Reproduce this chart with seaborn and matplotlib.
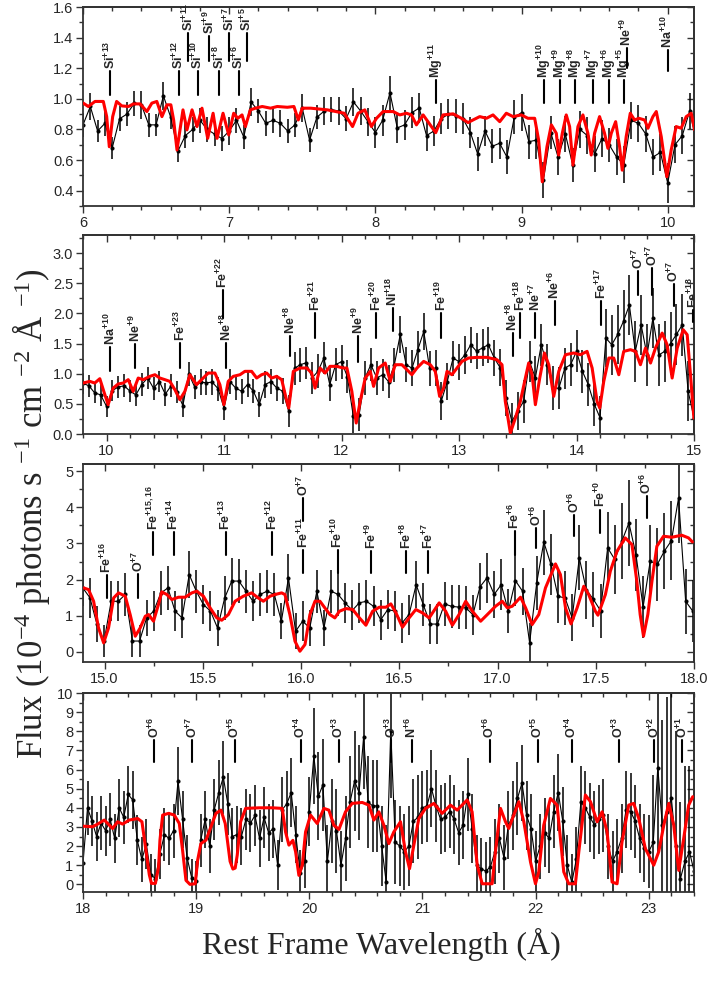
import numpy as np
import matplotlib
matplotlib.use("Agg")
import matplotlib.pyplot as plt
import seaborn as sns
from matplotlib.ticker import MultipleLocator, FormatStrFormatter

sns.set_style("ticks")
plt.rcParams['font.family'] = ['Liberation Sans', 'DejaVu Sans']
plt.rcParams['mathtext.default'] = 'regular'

# ---------------- panel 1 : 6 - 10.2 A ----------------
p1_start, p1_step = 6.0, 0.05
p1_flux = [0.83, 0.95, 0.79, 0.84, 0.68, 0.87, 0.90, 0.97, 0.96, 0.83,
           0.83, 1.02, 0.88, 0.66, 0.76, 0.80, 0.86, 0.80, 0.77, 0.74,
           0.79, 0.86, 0.75, 0.98, 0.92, 0.84, 0.86, 0.84, 0.79, 0.83,
           0.94, 0.73, 0.88, 0.92, 0.93, 0.92, 0.87, 0.98, 0.92, 0.85,
           0.78, 0.86, 1.04, 0.81, 0.83, 0.91, 0.94, 0.76, 0.79, 0.87,
           0.90, 0.89, 0.87, 0.78, 0.64, 0.79, 0.69, 0.71, 0.62, 0.88,
           0.91, 0.72, 0.73, 0.47, 0.78, 0.62, 0.77, 0.57, 0.80, 0.76,
           0.64, 0.74, 0.70, 0.62, 0.57, 0.86, 0.84, 0.77, 0.62, 0.65,
           0.45, 0.70, 0.76, 0.92, 0.71]
p1_err = [0.08, 0.09, 0.07, 0.08, 0.07, 0.08, 0.08, 0.08, 0.09, 0.08,
          0.07, 0.09, 0.08, 0.07, 0.08, 0.08, 0.08, 0.08, 0.08, 0.08,
          0.09, 0.08, 0.08, 0.09, 0.08, 0.08, 0.08, 0.09, 0.08, 0.08,
          0.09, 0.08, 0.08, 0.09, 0.08, 0.09, 0.08, 0.09, 0.09, 0.09,
          0.10, 0.10, 0.11, 0.10, 0.10, 0.10, 0.10, 0.10, 0.10, 0.10,
          0.10, 0.11, 0.10, 0.10, 0.11, 0.10, 0.11, 0.10, 0.11, 0.11,
          0.12, 0.11, 0.12, 0.12, 0.11, 0.12, 0.12, 0.11, 0.12, 0.12,
          0.12, 0.12, 0.11, 0.12, 0.12, 0.12, 0.12, 0.12, 0.12, 0.12,
          0.13, 0.12, 0.12, 0.12, 0.13]
p1_model_x = [6.002, 6.036, 6.082, 6.139, 6.162, 6.180, 6.203, 6.230, 6.265, 6.311,
              6.345, 6.391, 6.437, 6.471, 6.505, 6.540, 6.574, 6.601, 6.620, 6.643,
              6.684, 6.711, 6.746, 6.780, 6.814, 6.853, 6.890, 6.917, 6.958, 6.997,
              7.031, 7.059, 7.088, 7.111, 7.145, 7.180, 7.226, 7.283, 7.329, 7.398,
              7.443, 7.473, 7.500, 7.558, 7.672, 7.787, 7.844, 7.882, 7.928, 7.973,
              8.008, 8.053, 8.122, 8.167, 8.213, 8.247, 8.281, 8.327, 8.368, 8.413,
              8.463, 8.532, 8.589, 8.634, 8.668, 8.714, 8.760, 8.805, 8.851, 8.896,
              8.942, 8.999, 9.044, 9.090, 9.117, 9.142, 9.174, 9.204, 9.238, 9.254,
              9.279, 9.306, 9.329, 9.352, 9.386, 9.420, 9.454, 9.477, 9.500, 9.534,
              9.568, 9.591, 9.614, 9.644, 9.671, 9.689, 9.716, 9.744, 9.773, 9.803,
              9.842, 9.865, 9.899, 9.922, 9.956, 9.994, 10.024, 10.058, 10.092, 10.127,
              10.161, 10.184]
p1_model_y = [0.972, 0.950, 0.983, 0.983, 0.884, 0.687, 0.884, 0.983, 0.954, 0.950,
              0.967, 0.967, 0.917, 0.972, 0.983, 0.884, 0.961, 0.961, 0.862, 0.666,
              0.928, 0.797, 0.928, 0.819, 0.939, 0.742, 0.906, 0.742, 0.906, 0.764,
              0.906, 0.873, 0.895, 0.819, 0.928, 0.939, 0.950, 0.939, 0.950, 0.945,
              0.950, 0.862, 0.939, 0.939, 0.928, 0.906, 0.819, 0.906, 0.928, 0.819,
              0.873, 0.917, 0.917, 0.895, 0.906, 0.895, 0.830, 0.895, 0.840, 0.779,
              0.895, 0.902, 0.873, 0.845, 0.862, 0.884, 0.873, 0.895, 0.851, 0.906,
              0.884, 0.895, 0.873, 0.873, 0.731, 0.458, 0.687, 0.830, 0.775, 0.633,
              0.775, 0.895, 0.819, 0.567, 0.819, 0.895, 0.775, 0.633, 0.775, 0.884,
              0.775, 0.677, 0.775, 0.851, 0.687, 0.534, 0.753, 0.906, 0.862, 0.873,
              0.862, 0.808, 0.884, 0.917, 0.753, 0.491, 0.666, 0.819, 0.808, 0.884,
              0.906, 0.797]
p1_lines = [(6.185, 1.025, 1.18, "Si", "+13"), (6.654, 1.025, 1.18, "Si", "+12"),
            (6.785, 1.025, 1.18, "Si", "+10"), (6.933, 1.025, 1.18, "Si", "+8"),
            (7.064, 1.025, 1.18, "Si", "+6"), (6.720, 1.25, 1.43, "Si", "+11"),
            (6.865, 1.25, 1.41, "Si", "+9"), (7.000, 1.25, 1.43, "Si", "+7"),
            (7.120, 1.25, 1.43, "Si", "+5"), (8.413, 0.97, 1.12, "Mg", "+11"),
            (9.153, 0.97, 1.12, "Mg", "+10"), (9.265, 0.97, 1.12, "Mg", "+9"),
            (9.365, 0.97, 1.12, "Mg", "+8"), (9.488, 0.97, 1.12, "Mg", "+7"),
            (9.597, 0.97, 1.12, "Mg", "+6"), (9.698, 0.97, 1.12, "Mg", "+5"),
            (9.720, 1.20, 1.33, "Ne", "+9"), (10.000, 1.18, 1.32, "Na", "+10")]

# ---------------- panel 2 : 9.8 - 15 A ----------------
p2_start, p2_step = 9.8, 0.05
p2_flux = [0.84, 0.80, 0.68, 0.65, 0.46, 0.72, 0.78, 0.80, 0.71, 0.65,
           0.82, 0.93, 0.76, 0.87, 0.66, 0.80, 0.70, 0.47, 1.00, 0.78,
           0.86, 0.85, 0.86, 0.75, 0.43, 0.87, 0.76, 0.71, 0.82, 0.71,
           0.49, 0.82, 0.87, 0.76, 0.71, 0.38, 1.09, 1.15, 1.18, 0.93,
           1.04, 1.26, 0.82, 1.15, 1.20, 0.95, 0.30, 0.32, 0.93, 1.15,
           0.93, 0.98, 0.87, 1.15, 1.65, 1.15, 1.09, 1.40, 1.70, 1.09,
           1.09, 0.55, 0.87, 1.26, 1.20, 1.31, 1.48, 1.37, 1.43, 1.48,
           1.26, 1.10, 0.60, 0.21, 0.38, 0.54, 1.20, 0.93, 1.48, 1.15,
           0.76, 0.76, 1.09, 1.15, 1.37, 1.04, 0.82, 0.50, 0.27, 1.59,
           1.48, 1.65, 1.87, 2.14, 1.37, 1.81, 1.31, 1.92, 1.31, 1.37,
           1.50, 1.65, 1.81, 0.71, 0.27]
p2_err = [0.17, 0.18, 0.17, 0.18, 0.17, 0.18, 0.18, 0.19, 0.18, 0.18,
          0.19, 0.18, 0.19, 0.18, 0.19, 0.19, 0.18, 0.19, 0.20, 0.20,
          0.21, 0.20, 0.21, 0.20, 0.20, 0.21, 0.20, 0.21, 0.21, 0.20,
          0.21, 0.22, 0.21, 0.22, 0.22, 0.26, 0.27, 0.28, 0.27, 0.26,
          0.28, 0.27, 0.28, 0.27, 0.28, 0.27, 0.28, 0.27, 0.28, 0.27,
          0.28, 0.27, 0.28, 0.28, 0.30, 0.29, 0.30, 0.31, 0.30, 0.29,
          0.30, 0.31, 0.30, 0.29, 0.30, 0.31, 0.30, 0.30, 0.31, 0.30,
          0.30, 0.31, 0.30, 0.30, 0.32, 0.35, 0.34, 0.36, 0.35, 0.34,
          0.36, 0.35, 0.34, 0.36, 0.35, 0.36, 0.35, 0.36, 0.36, 0.48,
          0.50, 0.49, 0.52, 0.50, 0.51, 0.50, 0.52, 0.50, 0.51, 0.50,
          0.52, 0.50, 0.51, 0.50, 0.50]
p2_model_x = [9.801, 9.858, 9.900, 9.943, 9.977, 10.014, 10.057, 10.099, 10.142, 10.185,
              10.227, 10.270, 10.312, 10.369, 10.412, 10.454, 10.497, 10.539, 10.582, 10.624,
              10.667, 10.710, 10.766, 10.809, 10.866, 10.923, 10.965, 10.999, 11.036, 11.079,
              11.136, 11.178, 11.235, 11.278, 11.320, 11.363, 11.405, 11.448, 11.491, 11.528,
              11.551, 11.590, 11.647, 11.704, 11.746, 11.775, 11.817, 11.860, 11.902, 11.959,
              12.016, 12.046, 12.088, 12.125, 12.159, 12.202, 12.245, 12.273, 12.316, 12.372,
              12.415, 12.457, 12.514, 12.557, 12.599, 12.642, 12.699, 12.756, 12.798, 12.835,
              12.869, 12.898, 12.940, 12.983, 13.025, 13.082, 13.153, 13.238, 13.323, 13.366,
              13.394, 13.437, 13.480, 13.522, 13.565, 13.593, 13.622, 13.650, 13.687, 13.727,
              13.764, 13.806, 13.849, 13.906, 13.976, 14.033, 14.090, 14.133, 14.175, 14.198,
              14.232, 14.275, 14.317, 14.360, 14.402, 14.459, 14.502, 14.544, 14.587, 14.630,
              14.672, 14.729, 14.771, 14.814, 14.857, 14.908, 14.942, 14.970, 14.999]
p2_model_y = [0.845, 0.873, 0.845, 0.917, 0.707, 0.486, 0.762, 0.829, 0.845, 0.901,
              0.707, 0.928, 0.901, 0.956, 0.983, 0.928, 0.901, 0.873, 0.735, 0.569,
              0.707, 0.983, 0.818, 0.901, 1.011, 1.011, 0.818, 0.486, 0.873, 0.956,
              0.983, 1.039, 1.039, 0.928, 0.983, 1.011, 0.928, 0.956, 0.901, 0.597,
              0.431, 1.039, 1.094, 1.094, 1.011, 0.762, 1.094, 1.011, 1.122, 1.122,
              1.094, 1.094, 0.707, 0.182, 0.541, 0.928, 1.039, 0.790, 1.094, 1.177,
              0.873, 1.149, 1.149, 1.066, 0.983, 1.094, 1.204, 1.149, 1.039, 0.624,
              0.762, 1.039, 0.983, 1.094, 1.204, 1.260, 1.271, 1.271, 1.232, 1.149,
              0.541, 0.017, 0.265, 0.541, 0.928, 1.177, 0.983, 0.486, 0.928, 1.343,
              1.149, 0.624, 1.039, 1.315, 1.343, 1.315, 1.370, 1.094, 0.541, 0.431,
              0.873, 1.260, 1.260, 0.983, 1.370, 1.398, 1.370, 1.149, 1.425, 1.177,
              1.425, 1.674, 1.481, 0.928, 1.425, 1.729, 1.646, 0.983, 0.265]
p2_lines = [(10.030, 1.05, 1.44, "Na", "+10"), (10.243, 1.09, 1.49, "Ne", "+9"),
            (10.626, 1.09, 1.51, "Fe", "+23"), (11.018, 1.09, 1.51, "Ne", "+8"),
            (10.990, 1.92, 2.39, "Fe", "+22"), (11.563, 1.29, 1.62, "Ne", "+8"),
            (11.776, 1.59, 2.00, "Fe", "+21"), (12.140, 1.20, 1.62, "Ne", "+9"),
            (12.293, 1.60, 2.00, "Fe", "+20"), (12.437, 1.70, 2.09, "Ni", "+18"),
            (12.846, 1.60, 2.00, "Fe", "+19"), (13.457, 1.30, 1.67, "Ne", "+8"),
            (13.522, 1.60, 2.00, "Fe", "+18"), (13.650, 1.60, 2.00, "Ne", "+7"),
            (13.815, 1.81, 2.20, "Ne", "+6"), (14.212, 1.81, 2.20, "Fe", "+17"),
            (14.525, 2.31, 2.70, "O", "+7"), (14.644, 2.31, 2.75, "O", "+7"),
            (14.828, 2.12, 2.48, "O", "+7"), (14.995, 1.85, 2.05, "Fe", "+18")]

# ---------------- panel 3 : 14.9 - 18 A ----------------
p3_start, p3_step = 14.889, 0.0361
p3_flux = [1.77, 1.50, 0.76, 0.30, 1.40, 1.40, 1.59, 0.30, 0.30, 0.94,
           1.13, 1.63, 1.77, 1.13, 0.94, 2.14, 1.68, 1.31, 1.13, 0.66,
           1.49, 1.96, 1.96, 1.68, 1.40, 1.59, 1.68, 1.59, 0.85, 2.05,
           0.57, 0.85, 0.66, 1.68, 0.66, 1.68, 1.59, 1.35, 1.15, 1.36,
           1.40, 1.26, 0.89, 1.17, 1.13, 0.80, 1.03, 1.86, 1.31, 0.77,
           0.77, 1.33, 1.26, 1.24, 1.22, 1.03, 1.80, 2.05, 1.59, 1.86,
           1.13, 1.97, 1.68, 0.25, 1.91, 3.04, 2.42, 1.54, 1.49, 0.94,
           2.60, 1.72, 1.45, 1.14, 2.88, 2.56, 3.06, 3.57, 2.69, 1.24,
           2.51, 2.42, 2.79, 3.08, 4.26, 1.40, 1.13]
p3_err = [0.50, 0.55, 0.50, 0.45, 0.55, 0.55, 0.60, 0.45, 0.45, 0.50,
          0.55, 0.60, 0.60, 0.55, 0.55, 0.65, 0.60, 0.55, 0.55, 0.50,
          0.60, 0.65, 0.60, 0.60, 0.55, 0.60, 0.60, 0.60, 0.50, 0.65,
          0.50, 0.55, 0.50, 0.60, 0.50, 0.60, 0.60, 0.55, 0.55, 0.55,
          0.60, 0.55, 0.55, 0.55, 0.55, 0.55, 0.55, 0.65, 0.60, 0.55,
          0.55, 0.60, 0.60, 0.60, 0.60, 0.55, 0.65, 0.70, 0.65, 0.70,
          0.60, 0.70, 0.65, 0.55, 0.75, 0.90, 0.85, 0.75, 0.75, 0.65,
          0.90, 0.80, 0.75, 0.75, 1.00, 0.95, 1.05, 1.20, 1.00, 0.85,
          1.00, 1.00, 1.05, 1.10, 1.25, 0.90, 0.85]
p3_model_x = [14.893, 14.918, 14.944, 14.969, 14.995, 15.020, 15.046, 15.071, 15.105, 15.130,
              15.156, 15.181, 15.207, 15.224, 15.249, 15.274, 15.291, 15.317, 15.342, 15.376,
              15.410, 15.444, 15.469, 15.503, 15.537, 15.571, 15.596, 15.630, 15.664, 15.706,
              15.748, 15.782, 15.808, 15.842, 15.867, 15.901, 15.918, 15.943, 15.969, 15.994,
              16.020, 16.045, 16.071, 16.096, 16.121, 16.147, 16.172, 16.195, 16.229, 16.263,
              16.297, 16.330, 16.364, 16.398, 16.432, 16.457, 16.483, 16.516, 16.550, 16.584,
              16.618, 16.652, 16.703, 16.736, 16.770, 16.804, 16.838, 16.872, 16.914, 16.948,
              16.990, 17.024, 17.050, 17.075, 17.117, 17.143, 17.176, 17.210, 17.244, 17.295,
              17.320, 17.346, 17.374, 17.405, 17.439, 17.464, 17.498, 17.511, 17.549, 17.574,
              17.608, 17.650, 17.684, 17.709, 17.726, 17.743, 17.765, 17.786, 17.811, 17.845,
              17.887, 17.938, 17.972, 17.992]
p3_model_y = [1.771, 1.725, 1.402, 0.664, 0.249, 0.664, 1.494, 1.633, 1.541, 1.033,
              0.434, 0.664, 0.987, 1.033, 0.849, 1.310, 1.661, 1.587, 1.448, 1.513,
              1.513, 1.633, 1.679, 1.541, 1.218, 0.941, 0.876, 1.033, 1.402, 1.541,
              1.633, 1.494, 1.402, 1.541, 1.587, 1.633, 1.587, 1.033, 0.295, 0.018,
              0.203, 1.033, 1.402, 1.402, 1.218, 1.033, 0.941, 1.125, 1.199, 1.172,
              0.941, 0.738, 1.125, 1.236, 1.236, 1.328, 1.079, 0.683, 0.941, 1.172,
              1.079, 0.941, 1.356, 1.125, 0.738, 1.033, 1.402, 1.125, 0.849, 1.033,
              1.264, 1.402, 1.218, 1.264, 1.513, 1.218, 0.756, 1.033, 1.771, 2.435,
              2.140, 1.218, 0.775, 1.218, 1.817, 1.587, 1.125, 1.015, 1.587, 2.232,
              2.786, 3.155, 2.970, 1.956, 1.033, 0.434, 1.033, 1.956, 2.924, 3.201,
              3.173, 3.229, 3.155, 3.044]
p3_lines = [(15.010, 1.48, 2.12, "Fe", "+16"), (15.170, 1.48, 2.16, "O", "+7"),
            (15.247, 2.69, 3.32, "Fe", "+15,16"), (15.352, 2.69, 3.32, "Fe", "+14"),
            (15.616, 2.69, 3.32, "Fe", "+13"), (15.853, 2.69, 3.32, "Fe", "+12"),
            (16.012, 2.19, 2.83, "Fe", "+11"), (16.010, 3.62, 4.27, "O", "+7"),
            (16.186, 2.19, 2.83, "Fe", "+10"), (16.358, 2.19, 2.79, "Fe", "+9"),
            (16.536, 2.19, 2.79, "Fe", "+8"), (16.648, 2.19, 2.79, "Fe", "+7"),
            (17.088, 2.69, 3.34, "Fe", "+6"), (17.196, 2.88, 3.43, "O", "+6"),
            (17.390, 3.20, 3.80, "O", "+6"), (17.523, 3.30, 3.94, "Fe", "+0"),
            (17.760, 3.71, 4.31, "O", "+6")]

# ---------------- panel 4 : 18 - 23.4 A ----------------
p4_start, p4_step = 18.0, 0.04
p4_flux = [1.1, 4.0, 3.3, 2.5, 3.2, 2.8, 3.4, 2.4, 4.0, 3.5,
           4.7, 4.4, 2.3, 1.3, 2.1, 0.5, 0.3, 1.6, 2.6, 2.4,
           2.8, 5.4, 3.4, 1.4, 0.35, 0.2, 2.3, 3.4, 2.0, 3.9,
           4.8, 5.6, 4.2, 2.5, 2.6, 2.5, 3.4, 3.2, 3.6, 2.4,
           3.5, 2.7, 2.9, 1.0, 3.9, 4.2, 4.8, 2.6, 0.6, 1.2,
           3.8, 6.7, 4.6, 5.2, 1.2, 3.3, 2.8, 1.0, 2.4, 4.3,
           5.4, 4.8, 7.7, 4.3, 4.1, 4.1, 2.0, 0.1, 8.0, 2.2,
           2.0, 1.7, 2.0, 3.3, 3.5, 4.0, 4.1, 5.0, 4.1, 3.4,
           3.5, 3.8, 3.4, 2.7, 3.1, 4.7, 2.9, 1.0, 0.8, 0.7,
           0.9, 1.7, 2.4, 1.4, 3.1, 3.6, 4.5, 5.3, 3.6, 2.9,
           1.2, 2.0, 2.7, 2.4, 3.8, 4.8, 3.3, 1.0, 0.1, 1.3,
           4.3, 4.0, 3.5, 3.1, 3.4, 3.6, 2.0, 1.2, 1.7, 2.4,
           3.9, 3.8, 3.3, 2.4, 1.9, 1.7, 2.2, 6.1, 3.1, 3.8,
           4.5, 2.0, 0.3, 1.2, 1.7, 0.7]
p4_err = [1.3, 1.4, 1.3, 1.3, 1.4, 1.3, 1.4, 1.3, 1.5, 1.4,
          1.5, 1.5, 1.3, 1.2, 1.3, 1.1, 1.0, 1.3, 1.4, 1.4,
          1.4, 1.8, 1.5, 1.2, 1.0, 1.0, 1.4, 1.5, 1.4, 1.6,
          1.7, 1.9, 1.6, 1.5, 1.5, 1.5, 1.6, 1.5, 1.6, 1.5,
          1.6, 1.5, 1.5, 1.3, 1.7, 1.7, 1.8, 1.5, 1.2, 1.4,
          1.8, 2.5, 2.3, 2.4, 1.9, 2.2, 2.2, 1.8, 2.2, 2.4,
          2.6, 2.5, 2.7, 2.4, 2.4, 2.4, 2.1, 3.0, 3.5, 2.2,
          2.1, 2.0, 2.1, 2.2, 2.2, 1.9, 1.9, 2.0, 1.9, 1.8,
          1.8, 1.9, 1.8, 1.7, 1.8, 1.9, 1.8, 1.6, 1.6, 1.5,
          1.6, 1.7, 1.8, 1.7, 1.8, 1.8, 1.9, 2.0, 1.8, 1.8,
          1.6, 1.7, 1.8, 1.8, 1.9, 2.0, 1.8, 1.6, 1.5, 1.7,
          1.9, 1.9, 1.8, 1.8, 1.8, 1.9, 1.7, 1.6, 1.7, 1.8,
          2.0, 2.0, 1.9, 1.8, 1.8, 1.9, 3.5, 4.5, 5.5, 6.0,
          5.5, 6.0, 4.0, 5.0, 4.5, 3.5]
p4_model_x = [17.997, 18.085, 18.130, 18.188, 18.262, 18.306, 18.350, 18.409, 18.483, 18.521,
              18.556, 18.586, 18.605, 18.640, 18.668, 18.680, 18.704, 18.757, 18.807, 18.851,
              18.880, 18.910, 18.945, 18.992, 19.013, 19.042, 19.087, 19.131, 19.175, 19.219,
              19.257, 19.300, 19.325, 19.345, 19.363, 19.393, 19.437, 19.555, 19.673, 19.761,
              19.790, 19.820, 19.855, 19.879, 19.908, 19.938, 19.967, 20.011, 20.070, 20.129,
              20.173, 20.217, 20.262, 20.320, 20.379, 20.468, 20.526, 20.571, 20.615, 20.659,
              20.703, 20.747, 20.806, 20.850, 20.886, 20.924, 20.968, 21.027, 21.101, 21.174,
              21.248, 21.307, 21.395, 21.439, 21.484, 21.528, 21.616, 21.645, 21.690, 21.734,
              21.763, 21.807, 21.852, 21.896, 21.955, 21.999, 22.028, 22.072, 22.131, 22.190,
              22.249, 22.293, 22.352, 22.382, 22.440, 22.485, 22.544, 22.588, 22.632, 22.676,
              22.720, 22.764, 22.823, 22.867, 22.912, 22.970, 23.044, 23.088, 23.133, 23.177,
              23.221, 23.265, 23.309, 23.353, 23.389]
p4_model_y = [3.04, 3.01, 3.15, 3.36, 2.92, 3.27, 3.15, 3.36, 3.44, 3.27,
              1.78, 0.50, 0.05, 0.05, 0.90, 2.31, 3.62, 3.71, 3.62, 3.18,
              1.78, 0.21, 0.00, 0.03, 1.26, 2.13, 2.31, 3.01, 3.71, 3.88,
              3.18, 1.20, 0.80, 0.85, 1.52, 3.27, 3.97, 4.00, 4.00, 3.97,
              2.74, 2.05, 2.30, 1.70, 0.47, 1.00, 2.74, 3.62, 3.18, 3.97,
              3.88, 3.09, 2.87, 3.79, 4.23, 4.28, 4.14, 3.36, 3.79, 3.09,
              2.13, 2.74, 3.27, 1.70, 0.82, 2.05, 3.44, 3.97, 4.23, 3.71,
              4.14, 3.88, 4.41, 3.79, 1.00, 0.03, 0.03, 1.70, 3.97, 3.27,
              2.92, 3.62, 4.32, 3.27, 1.17, 0.03, 0.65, 3.09, 4.49, 4.14,
              0.65, 0.03, 0.03, 1.70, 4.67, 4.32, 3.27, 3.79, 2.74, 0.12,
              0.03, 2.22, 4.14, 4.23, 3.44, 1.87, 1.00, 1.70, 3.09, 4.23,
              3.09, 0.73, 2.40, 4.14, 4.58]
p4_lines = [(18.627, 6.42, 7.55, "O", "+6"), (18.966, 6.42, 7.55, "O", "+7"),
            (19.340, 6.42, 7.55, "O", "+5"), (19.923, 6.42, 7.55, "O", "+4"),
            (20.260, 6.42, 7.55, "O", "+3"), (20.724, 6.42, 7.55, "O", "+3"),
            (20.904, 6.42, 7.55, "N", "+6"), (21.593, 6.42, 7.55, "O", "+6"),
            (22.020, 6.42, 7.55, "O", "+5"), (22.320, 6.42, 7.55, "O", "+4"),
            (22.735, 6.42, 7.55, "O", "+3"), (23.050, 6.42, 7.55, "O", "+2"),
            (23.294, 6.42, 7.55, "O", "+1")]

panels = [
    dict(start=p1_start, step=p1_step, flux=p1_flux, err=p1_err, mx=p1_model_x, my=p1_model_y,
         lines=p1_lines, xlim=(6.0, 10.18), ylim=(0.3, 1.6), xt=(1, 0.2), yt=(0.2, 0.1),
         xfmt='%d', yfmt='%.1f', top=7, bottom=206),
    dict(start=p2_start, step=p2_step, flux=p2_flux, err=p2_err, mx=p2_model_x, my=p2_model_y,
         lines=p2_lines, xlim=(9.8, 15.0), ylim=(0.0, 3.3), xt=(1, 0.2), yt=(0.5, 0.25),
         xfmt='%d', yfmt='%.1f', top=235, bottom=434),
    dict(start=p3_start, step=p3_step, flux=p3_flux, err=p3_err, mx=p3_model_x, my=p3_model_y,
         lines=p3_lines, xlim=(14.89, 18.0), ylim=(-0.28, 5.2), xt=(0.5, 0.25), yt=(1, 0.5),
         xfmt='%.1f', yfmt='%d', top=464, bottom=662),
    dict(start=p4_start, step=p4_step, flux=p4_flux, err=p4_err, mx=p4_model_x, my=p4_model_y,
         lines=p4_lines, xlim=(18.0, 23.4), ylim=(-0.4, 10.0), xt=(1, 0.2), yt=(1, 0.5),
         xfmt='%d', yfmt='%d', top=693, bottom=892),
]

W, H = 708, 996
fig = plt.figure(figsize=(W / 100, H / 100), dpi=100)

for p in panels:
    ax = fig.add_axes([83 / W, 1 - p['bottom'] / H, 611 / W, (p['bottom'] - p['top']) / H])
    flux = np.array(p['flux'])
    x = p['start'] + p['step'] * np.arange(len(flux))

    ax.errorbar(x, flux, yerr=p['err'], fmt='none', ecolor='black', elinewidth=1.1,
                capsize=0, zorder=2)
    sns.lineplot(x=x, y=flux, ax=ax, color='black', lw=0.8, marker='o', ms=2.2,
                 mec='black', sort=False, estimator=None, zorder=2)
    sns.lineplot(x=p['mx'], y=p['my'], ax=ax, color='#ff0000', lw=2.2,
                 sort=False, estimator=None, zorder=3)

    for lx, y0, y1, ion, q in p['lines']:
        ax.plot([lx, lx], [y0, y1], color='black', lw=1.5, zorder=4)
        t = ax.annotate(f"{ion}$^{{{q}}}$", xy=(lx, y1), xytext=(0, 1.5),
                        textcoords='offset points', rotation=90, ha='center', va='bottom',
                        fontsize=9, fontweight='bold', zorder=4)
        if lx > p['xlim'][1] - 0.02:
            t.set_clip_box(ax.bbox)
            t.set_clip_on(True)

    ax.set_xlim(*p['xlim'])
    ax.set_ylim(*p['ylim'])
    ax.set_xlabel('')
    ax.set_ylabel('')
    ax.xaxis.set_major_locator(MultipleLocator(p['xt'][0]))
    ax.xaxis.set_minor_locator(MultipleLocator(p['xt'][1]))
    ax.yaxis.set_major_locator(MultipleLocator(p['yt'][0]))
    ax.yaxis.set_minor_locator(MultipleLocator(p['yt'][1]))
    ax.xaxis.set_major_formatter(FormatStrFormatter(p['xfmt']))
    ax.yaxis.set_major_formatter(FormatStrFormatter(p['yfmt']))
    ax.tick_params(which='both', direction='out', top=False, right=False,
                   labelsize=10.5, pad=2, color='#333333', width=1.0)
    ax.tick_params(which='major', length=5)
    ax.tick_params(which='minor', length=3)
    for s in ax.spines.values():
        s.set_visible(True)
        s.set_linewidth(1.3)
        s.set_color('#333333')

    # mirrored ticks pointing inward on the top and right sides
    sx = ax.secondary_xaxis('top')
    sx.xaxis.set_major_locator(MultipleLocator(p['xt'][0]))
    sx.xaxis.set_minor_locator(MultipleLocator(p['xt'][1]))
    sx.tick_params(which='both', direction='in', labeltop=False, color='#333333', width=1.0)
    sx.tick_params(which='major', length=5)
    sx.tick_params(which='minor', length=3)
    sy = ax.secondary_yaxis('right')
    sy.yaxis.set_major_locator(MultipleLocator(p['yt'][0]))
    sy.yaxis.set_minor_locator(MultipleLocator(p['yt'][1]))
    sy.tick_params(which='both', direction='in', labelright=False, color='#333333', width=1.0)
    sy.tick_params(which='major', length=5)
    sy.tick_params(which='minor', length=3)
    for sa in (sx, sy):
        for s in sa.spines.values():
            s.set_linewidth(1.3)
            s.set_color('#333333')

fig.text(381 / W, 1 - 944 / H, "Rest Frame Wavelength (Å)", ha='center', va='center',
         fontsize=23, family='Liberation Serif')
fig.text(31 / W, 1 - 514 / H,
         "Flux (10$^{-4}$ photons s $^{-1}$ cm $^{-2}$ Å $^{-1}$)",
         ha='center', va='center', rotation=90, fontsize=25, family='Liberation Serif')

fig.savefig("out.png", dpi=100)
